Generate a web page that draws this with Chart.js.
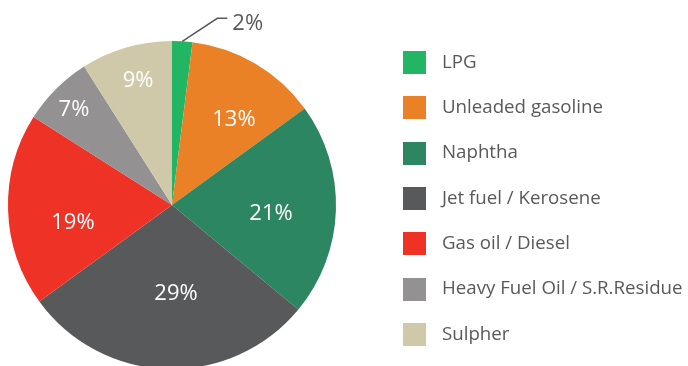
<!DOCTYPE html>
<html>
<head>
<meta charset="utf-8">
<script src="https://cdn.jsdelivr.net/npm/chart.js@4.4.0/dist/chart.umd.min.js"></script>
<style>
    html, body { margin: 0; padding: 0; background: #fff; overflow: hidden; }
    #wrap { position: relative; width: 688px; height: 372px; }
</style>
</head>
<body>
<div id="wrap"><canvas id="productChart"></canvas></div>
<script>
// Refinery product split, percent of output
const products = ['LPG', 'Unleaded gasoline', 'Naphtha', 'Jet fuel / Kerosene', 'Gas oil / Diesel', 'Heavy Fuel Oil / S.R.Residue', 'Sulpher'];
const shares = [2, 13, 21, 29, 19, 7, 9];
const sliceColors = ['#22b564', '#ea8126', '#2b8661', '#58595b', '#ee3226', '#939192', '#d0c9a9'];

// Where each in-slice label sits: fraction of the radius, and a nudge in degrees
const labelRadius = [0, 0.648, 0.599, 0.531, 0.618, 0.845, 0.797];
const labelShift = [0, 4.4, 2.3, -3.8, -7.3, -0.6, 0.7];

const textColor = '#58595b';
const fontFamily = '"Open Sans", "Noto Sans", sans-serif';

// Percent labels inside the slices, plus the leader line for the tiny first slice
const sliceLabels = {
    id: 'sliceLabels',
    afterDatasetsDraw(chart) {
        const ctx = chart.ctx;
        const arcs = chart.getDatasetMeta(0).data;
        ctx.save();
        ctx.font = '22px ' + fontFamily;
        ctx.textAlign = 'center';
        ctx.textBaseline = 'middle';
        arcs.forEach((arc, i) => {
            const mid = (arc.startAngle + arc.endAngle) / 2;
            if (i === 0) {
                // leader line from the rim out to the label
                const sx = arc.x + Math.cos(mid) * arc.outerRadius;
                const sy = arc.y + Math.sin(mid) * arc.outerRadius;
                ctx.strokeStyle = textColor;
                ctx.lineWidth = 1.5;
                ctx.beginPath();
                ctx.moveTo(sx, sy);
                ctx.lineTo(sx + 35, sy - 23);
                ctx.lineTo(sx + 45, sy - 23);
                ctx.stroke();
                ctx.fillStyle = textColor;
                ctx.textAlign = 'left';
                ctx.fillText(shares[i] + '%', sx + 50, sy - 18);
                ctx.textAlign = 'center';
                return;
            }
            const a = mid + labelShift[i] * Math.PI / 180;
            const r = arc.outerRadius * labelRadius[i];
            ctx.fillStyle = '#ffffff';
            ctx.fillText(shares[i] + '%', arc.x + Math.cos(a) * r + 1, arc.y + Math.sin(a) * r + 1.5);
        });
        ctx.restore();
    }
};

// Square-swatch legend down the right side
const sideLegend = {
    id: 'sideLegend',
    afterDraw(chart) {
        const ctx = chart.ctx;
        const box = 23;
        const left = 403;
        const firstRow = 62.5;
        const rowGap = 45.3;
        ctx.save();
        ctx.font = '18.7px ' + fontFamily;
        ctx.textBaseline = 'middle';
        ctx.textAlign = 'left';
        products.forEach((name, i) => {
            const cy = firstRow + i * rowGap;
            ctx.fillStyle = sliceColors[i];
            ctx.fillRect(left, Math.round(cy - box / 2), box, box);
            ctx.fillStyle = textColor;
            ctx.fillText(name, left + box + 16, cy);
        });
        ctx.restore();
    }
};

new Chart(document.getElementById('productChart'), {
    type: 'pie',
    data: {
        labels: products,
        datasets: [{
            data: shares,
            backgroundColor: sliceColors,
            borderWidth: 0
        }]
    },
    options: {
        responsive: true,
        maintainAspectRatio: false,
        animation: false,
        layout: {
            padding: { left: 8, right: 352, top: 41, bottom: 3 }
        },
        plugins: {
            legend: { display: false },
            tooltip: { enabled: false }
        }
    },
    plugins: [sliceLabels, sideLegend]
});
</script>
</body>
</html>
